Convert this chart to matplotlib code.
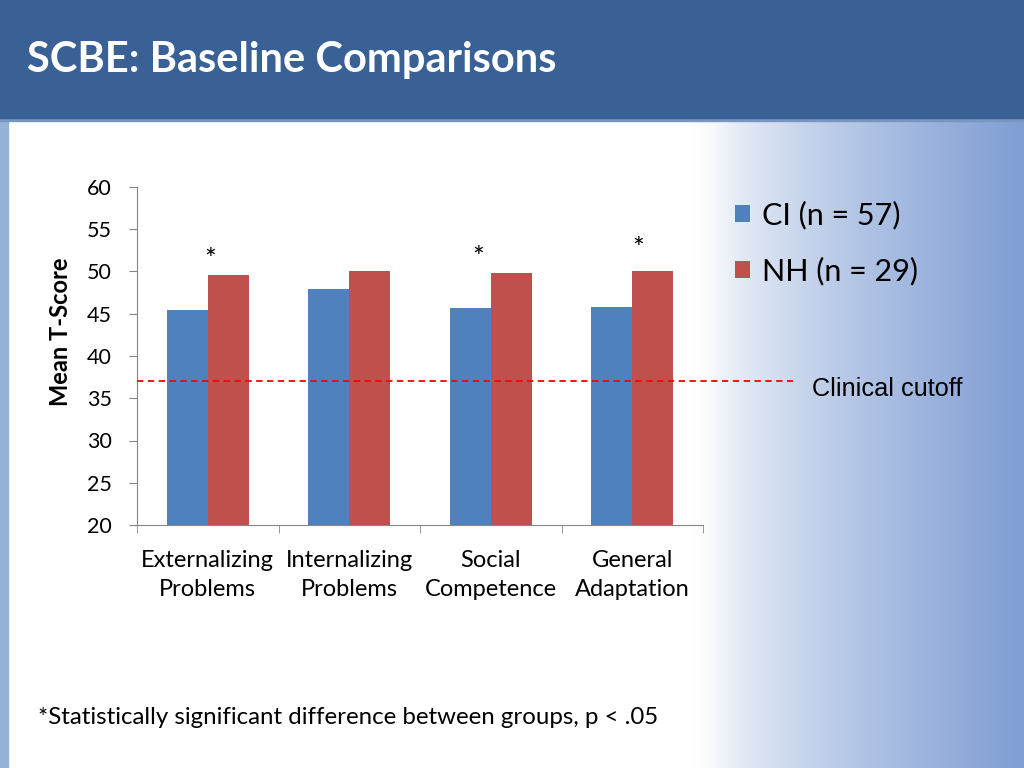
import numpy as np
import matplotlib.pyplot as plt
from matplotlib.patches import Rectangle

# chart values
categories = ['Externalizing\nProblems', 'Internalizing\nProblems',
              'Social\nCompetence', 'General\nAdaptation']
ci_scores = [45.4, 47.9, 45.7, 45.8]
nh_scores = [49.6, 50.1, 49.8, 50.1]
significant = [True, False, True, True]
series_labels = ['CI (n = 57)', 'NH (n = 29)']
cutoff = 37
y_ticks = [20, 25, 30, 35, 40, 45, 50, 55, 60]

blue = '#4F81BD'
red = '#C0504D'
font = ['Lato', 'DejaVu Sans']

fig = plt.figure(figsize=(10.24, 7.68), dpi=100)

# slide background: white fading to light blue on the right
bg = fig.add_axes([0, 0, 1, 1], zorder=-2)
bg.axis('off')
xs = np.linspace(0, 1, 1024)
t = np.clip((xs - 0.69) / 0.31, 0, 1) ** 0.7
t = np.convolve(np.pad(t, 15, mode='edge'), np.ones(31) / 31, mode='valid')
light = np.array([1.0, 1.0, 1.0])
tint = np.array([0.50, 0.62, 0.83])
row = light[None, :] * (1 - t[:, None]) + tint[None, :] * t[:, None]
img = np.repeat(row[None, :, :], 4, axis=0)
bg.imshow(img, extent=[0, 1, 0, 1], aspect='auto')
bg.set_xlim(0, 1)
bg.set_ylim(0, 1)
# left strip and title bar
bg.add_patch(Rectangle((0, 0), 8 / 1024, 1, color='#95B3D7'))
bg.add_patch(Rectangle((0, 1 - 121 / 768), 1, 3 / 768, color='#7896C2'))
bg.add_patch(Rectangle((0, 1 - 118 / 768), 1, 118 / 768, color='#3A6195'))

fig.text(27 / 1024, 1 - 60 / 768, 'SCBE: Baseline Comparisons', color='white',
         fontsize=30, fontweight='bold', family=font, va='center', ha='left')

ax = fig.add_axes([137 / 1024, 1 - 525 / 768, 566 / 1024, 338 / 768])
ax.patch.set_alpha(0)
x = np.arange(len(categories))
w = 0.29
ax.bar(x - w / 2, [v - 20 for v in ci_scores], w, bottom=20, color=blue, label=series_labels[0], zorder=2)
ax.bar(x + w / 2, [v - 20 for v in nh_scores], w, bottom=20, color=red, label=series_labels[1], zorder=2)

ax.set_xlim(-0.5, len(categories) - 0.5)
ax.set_ylim(20, 60)
ax.set_yticks(y_ticks)
ax.set_yticklabels([str(v) for v in y_ticks], family=font, fontsize=15.5)
ax.set_xticks(x)
ax.set_xticklabels(categories, family=font, fontsize=17, linespacing=1.45)
ax.set_xticks(np.arange(-0.5, len(categories)), minor=True)
ax.tick_params(axis='x', which='major', length=0, pad=18)
ax.tick_params(axis='x', which='minor', length=6, color='#868686')
ax.tick_params(axis='y', length=6, color='#868686', pad=12)
for s in ['top', 'right']:
    ax.spines[s].set_visible(False)
for s in ['left', 'bottom']:
    ax.spines[s].set_color('#868686')
ax.set_ylabel('Mean T-Score', family=font, fontsize=17, fontweight='bold')
ax.yaxis.set_label_coords(-0.14 + 14 / 566, 0.571)

# clinical cutoff line runs past the plot area
ax.axhline(cutoff, xmin=0, xmax=(793 - 137) / 566, color='#FF0000', lw=1.3,
           ls=(0, (3.5, 2.5)), clip_on=False, zorder=3)
ax.text(1.193, cutoff - 0.85, 'Clinical cutoff', transform=ax.get_yaxis_transform(),
        family='Liberation Sans', fontsize=18.2, va='center', ha='left')

# significance markers (placed by hand on the slide)
star_dx = [0.02, 0, -0.09, 0.04]
star_y = [51.2, 0, 51.5, 52.6]
for i, sig in enumerate(significant):
    if sig:
        ax.text(i + star_dx[i], star_y[i], '*', ha='center', va='center',
                family=font, fontsize=20)

leg = ax.legend(loc='upper left', bbox_to_anchor=(1.056, 0.96), frameon=False,
                prop={'family': font, 'size': 22}, handlelength=0.5, handleheight=0.5,
                handletextpad=0.4, labelspacing=0.9, borderaxespad=0, borderpad=0)

fig.text(38 / 1024, 1 - 718 / 768,
         '*Statistically significant difference between groups, p < .05',
         family=font, fontsize=17.3, va='center', ha='left')

fig.savefig('out.png', dpi=100)
